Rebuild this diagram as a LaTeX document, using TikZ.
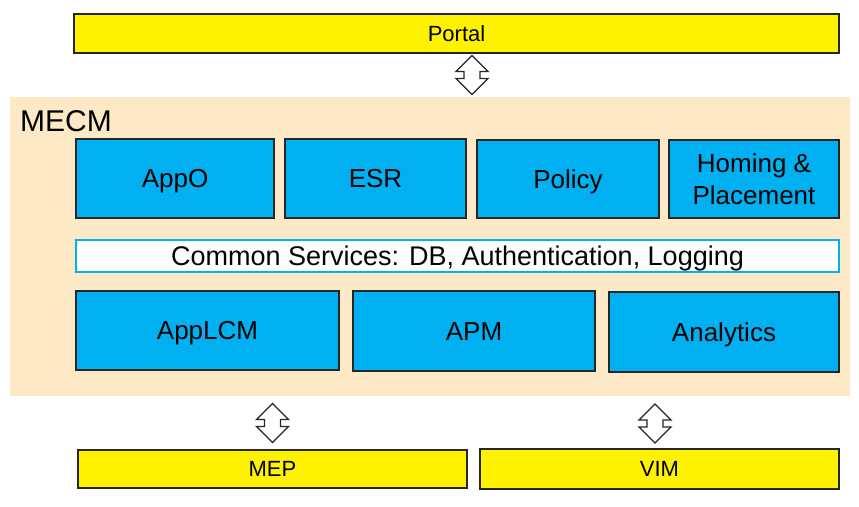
\documentclass[tikz,border=0pt]{standalone}
\usepackage{fontspec}
\setmainfont{Liberation Sans}
\usetikzlibrary{calc}
\definecolor{mecmbg}{RGB}{253,233,198}
\definecolor{boxblue}{RGB}{0,176,240}
\definecolor{edgegray}{RGB}{38,38,38}
\tikzset{
  ybox/.style={draw=edgegray, line width=1.4pt, fill=yellow, inner sep=0pt,
    text height=19.9pt, text depth=4.7pt, font=\fontsize{22}{26}\selectfont},
  bbox/.style={draw=edgegray, line width=1.4pt, fill=boxblue, inner sep=0pt,
    align=center, text height=23.5pt, text depth=5.5pt, font=\fontsize{26}{32}\selectfont},
  updown/.pic={
    \draw[draw=edgegray, line width=1.3pt, fill=white, line join=miter]
      (0,-19.5) -- ++(16,16) -- ++(-8,0) -- ++(0,7) -- ++(8,0) -- ++(-16,16)
      -- ++(-16,-16) -- ++(8,0) -- ++(0,-7) -- ++(-8,0) -- cycle;
  }
}
\begin{document}
\begin{tikzpicture}[x=1pt,y=-1pt]
    \useasboundingbox (0,0) rectangle (859,506);

    % MECM area
    \node[fill=mecmbg, minimum width=840pt, minimum height=299pt, inner sep=0pt] (mecmarea) at (430,246.5) {};
    \node[anchor=base west, inner sep=0pt, font=\fontsize{30}{36}\selectfont] (mecm) at (20,131) {MECM};

    \node[ybox, minimum width=765pt, minimum height=39pt] (portal) at (456.5,33.5) {Portal};

    \node[bbox, minimum width=198pt, minimum height=79pt] (appo) at (175,178.5) {AppO};
    \node[bbox, minimum width=181pt, minimum height=79pt] (esr) at (375.5,178.5) {ESR};
    \node[bbox, minimum width=182pt, minimum height=78pt] (policy) at (568,179) {Policy};
    \node[bbox, text height={}, text depth={}, minimum width=170pt, minimum height=78pt] (homing) at (754,179) {Homing \&\\Placement};

    \node[bbox, draw=boxblue, fill=white, line width=1.2pt, font=\fontsize{27}{32}\selectfont,
      text height=24.4pt, text depth=5.7pt,
      minimum width=763pt, minimum height=32pt] (common) at (457.5,256) {Common Services: DB, Authentication, Logging};

    \node[bbox, minimum width=263pt, minimum height=79pt] (applcm) at (207.5,330.5) {AppLCM};
    \node[bbox, minimum width=242pt, minimum height=80pt] (apm) at (474,331) {APM};
    \node[bbox, minimum width=230pt, minimum height=80pt] (analytics) at (724,332) {Analytics};

    \node[ybox, minimum width=389pt, minimum height=38pt] (mep) at (272.5,469) {MEP};
    \node[ybox, minimum width=359pt, minimum height=40pt] (vim) at (659.5,469) {VIM};

    % interfaces
    \coordinate (ifportal) at (472,75);
    \coordinate (ifmep) at (mep.north|-{(0,423)});
    \coordinate (ifvim) at (655,423.5);
    \pic at (ifportal) {updown};
    \pic at (ifmep) {updown};
    \pic at (ifvim) {updown};
\end{tikzpicture}
\end{document}
